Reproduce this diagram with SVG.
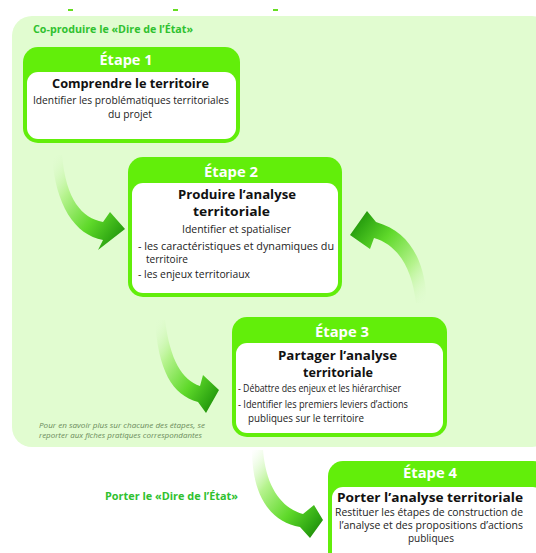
<svg xmlns="http://www.w3.org/2000/svg" width="536" height="553" viewBox="0 0 536 553">
<defs>
<linearGradient id="gDown" x1="0" y1="0" x2="1" y2="1">
<stop offset="0" stop-color="#e4fbd8" stop-opacity="0"/>
<stop offset="0.3" stop-color="#b6f38e"/>
<stop offset="0.62" stop-color="#5fd92a"/>
<stop offset="0.85" stop-color="#2ea612"/>
<stop offset="1" stop-color="#1a7a05"/>
</linearGradient>
<linearGradient id="gUp" x1="1" y1="1" x2="0" y2="0">
<stop offset="0" stop-color="#e4fbd8" stop-opacity="0"/>
<stop offset="0.3" stop-color="#b6f38e"/>
<stop offset="0.62" stop-color="#5fd92a"/>
<stop offset="0.85" stop-color="#2ea612"/>
<stop offset="1" stop-color="#1a7a05"/>
</linearGradient>
<style>
.panel{fill:#e1fcd0}
.outer{fill:#62ee0a}
.inner{fill:#ffffff}
.hdr{font-family:"Open Sans","Liberation Sans",sans-serif;font-weight:bold;font-size:15px;fill:#ffffff;text-anchor:middle}
.ttl{font-family:"Open Sans","Liberation Sans",sans-serif;font-weight:bold;font-size:11.5px;fill:#111111}
.txt{font-family:"Open Sans","Liberation Sans",sans-serif;font-size:10px;fill:#222222}
.grn{font-family:"Open Sans","Liberation Sans",sans-serif;font-weight:bold;font-size:11px;fill:#2fc12f}
.note{font-family:"Open Sans","Liberation Sans",sans-serif;font-style:italic;font-size:8px;fill:#6a8a5a}
</style>
</defs>

<rect x="0" y="0" width="536" height="553" fill="#ffffff"/>
<rect x="68" y="9" width="5" height="2" fill="#66dd22"/>
<rect x="173" y="9" width="5" height="2" fill="#66dd22"/>
<rect x="273" y="9" width="5" height="2" fill="#66dd22"/>
<rect class="panel" x="12" y="16" width="540" height="431" rx="20"/>

<text class="grn" x="33" y="33" textLength="160" lengthAdjust="spacingAndGlyphs">Co-produire le «Dire de l’État»</text>
<text class="grn" x="105" y="500" textLength="133" lengthAdjust="spacingAndGlyphs">Porter le «Dire de l’État»</text>
<text class="note" x="39" y="428" textLength="166" lengthAdjust="spacingAndGlyphs">Pour en savoir plus sur chacune des étapes, se</text>
<text class="note" x="39" y="438" textLength="163" lengthAdjust="spacingAndGlyphs">reporter aux fiches pratiques correspondantes</text>

<g id="connectors">
<path d="M52,155 C55,205 75,235 103,240 L98,250 L125,229 L110,212 L103,222 C82,218 66,200 62,155 Z" fill="url(#gDown)"/>
<path d="M427,303 C425,260 410,232 376,222 L367,211 L350,235 L370,249 L374,238 C398,245 412,268 416,303 Z" fill="url(#gUp)"/>
<path d="M155,320 C158,370 172,395 198,402 L206,413 L219,390 L203,375 L200,386 C182,380 170,360 165,320 Z" fill="url(#gDown)"/>
<path d="M252,450 C252,495 270,522 300,527 L310,538 L323,520 L314,505 L303,514 C282,508 266,488 263,450 Z" fill="url(#gDown)"/>
</g>

<g id="etape1">
<rect class="outer" x="23" y="47" width="217" height="96" rx="15"/>
<rect class="inner" x="27" y="72" width="209" height="67" rx="11"/>
<text class="hdr" x="126" y="65" textLength="53" lengthAdjust="spacingAndGlyphs">Étape 1</text>
<text class="ttl" x="52" y="88" textLength="157" lengthAdjust="spacingAndGlyphs">Comprendre le territoire</text>
<text class="txt" x="33" y="104" textLength="196" lengthAdjust="spacingAndGlyphs">Identifier les problématiques territoriales</text>
<text class="txt" x="108" y="118" textLength="44" lengthAdjust="spacingAndGlyphs">du projet</text>
</g>

<g id="etape2">
<rect class="outer" x="128" y="157" width="214" height="140" rx="15"/>
<rect class="inner" x="132" y="183" width="206" height="110" rx="11"/>
<text class="hdr" x="231" y="177" textLength="54" lengthAdjust="spacingAndGlyphs">Étape 2</text>
<text class="ttl" x="178" y="199" textLength="118" lengthAdjust="spacingAndGlyphs">Produire l’analyse</text>
<text class="ttl" x="193" y="216" textLength="77" lengthAdjust="spacingAndGlyphs">territoriale</text>
<text class="txt" x="182" y="233" textLength="109" lengthAdjust="spacingAndGlyphs">Identifier et spatialiser</text>
<text class="txt" x="138" y="250" textLength="196" lengthAdjust="spacingAndGlyphs">- les caractéristiques et dynamiques du</text>
<text class="txt" x="146" y="263" textLength="42" lengthAdjust="spacingAndGlyphs">territoire</text>
<text class="txt" x="138" y="278" textLength="112" lengthAdjust="spacingAndGlyphs">- les enjeux territoriaux</text>
</g>

<g id="etape3">
<rect class="outer" x="232" y="317" width="215" height="120" rx="15"/>
<rect class="inner" x="236" y="343" width="207" height="90" rx="11"/>
<text class="hdr" x="342" y="337" textLength="54" lengthAdjust="spacingAndGlyphs">Étape 3</text>
<text class="ttl" x="278" y="360" textLength="119" lengthAdjust="spacingAndGlyphs">Partager l’analyse</text>
<text class="ttl" x="303" y="377" textLength="70" lengthAdjust="spacingAndGlyphs">territoriale</text>
<text class="txt" x="238" y="392" textLength="163" lengthAdjust="spacingAndGlyphs">- Débattre des enjeux et les hiérarchiser</text>
<text class="txt" x="238" y="408" textLength="170" lengthAdjust="spacingAndGlyphs">- Identifier les premiers leviers d’actions</text>
<text class="txt" x="248" y="422" textLength="116" lengthAdjust="spacingAndGlyphs">publiques sur le territoire</text>
</g>

<g id="etape4">
<rect class="outer" x="328" y="461" width="220" height="110" rx="15"/>
<rect class="inner" x="332" y="487" width="212" height="80" rx="11"/>
<text class="hdr" x="430" y="478" textLength="54" lengthAdjust="spacingAndGlyphs">Étape 4</text>
<text class="ttl" x="337" y="502" textLength="186" lengthAdjust="spacingAndGlyphs">Porter l’analyse territoriale</text>
<text class="txt" x="335" y="516" textLength="188" lengthAdjust="spacingAndGlyphs">Restituer les étapes de construction de</text>
<text class="txt" x="339" y="529" textLength="184" lengthAdjust="spacingAndGlyphs">l’analyse et des propositions d’actions</text>
<text class="txt" x="408" y="542" textLength="46" lengthAdjust="spacingAndGlyphs">publiques</text>
</g>
</svg>
